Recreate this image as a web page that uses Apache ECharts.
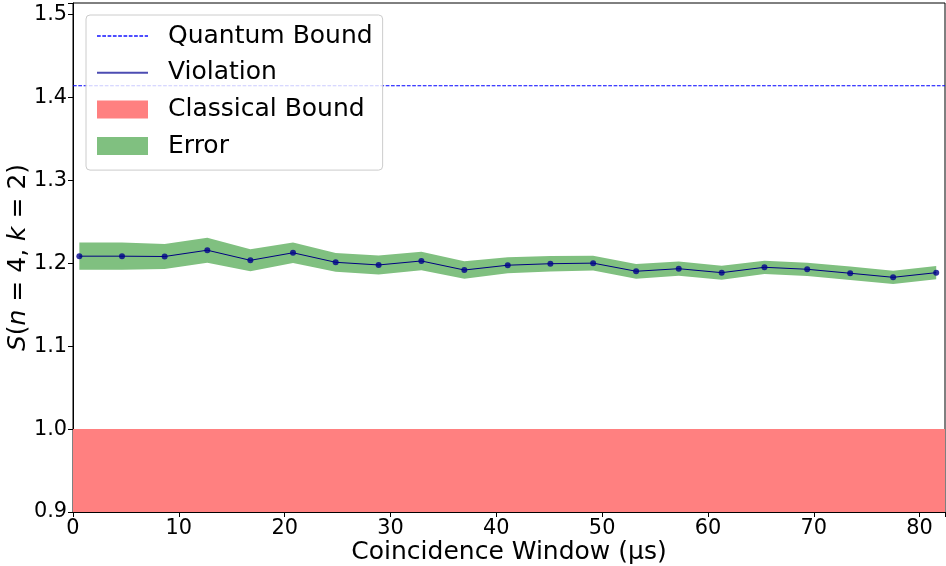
<!DOCTYPE html>
<html>
<head>
<meta charset="utf-8">
<script src="https://cdn.jsdelivr.net/npm/echarts@6/dist/echarts.min.js"></script>
<style>html,body{margin:0;padding:0;background:#fff}#c{width:946px;height:566px}</style>
</head>
<body>
<div id="c"></div>
<script>
// Coincidence window (µs)
const windows = [0.60, 4.63, 8.66, 12.69, 16.76, 20.79, 24.82, 28.88, 32.92, 36.98, 41.08, 45.11, 49.15, 53.21, 57.24, 61.30, 65.34, 69.38, 73.44, 77.50, 81.57];
// S(n=4,k=2) violation values
const violation = [1.2086, 1.2086, 1.2082, 1.2158, 1.2036, 1.2127, 1.2012, 1.1980, 1.2028, 1.1919, 1.1977, 1.1995, 1.2002, 1.1904, 1.1935, 1.1887, 1.1952, 1.1928, 1.1880, 1.1831, 1.1887];
// half-width of error band
const errors = [0.0165, 0.0165, 0.0151, 0.0150, 0.0133, 0.0124, 0.0113, 0.0115, 0.0112, 0.0105, 0.0096, 0.0093, 0.0090, 0.0089, 0.0086, 0.0084, 0.0080, 0.0080, 0.0080, 0.0080, 0.0080];
const quantumBound = 1.4142;
const classicalBound = 1.0;
const xRange = [0, 82.4];
const yRange = [0.9, 1.514];
const xTicks = [0, 10, 20, 30, 40, 50, 60, 70, 80];
const yTicks = [0.9, 1.0, 1.1, 1.2, 1.3, 1.4, 1.5];

const pts = windows.map((x, i) => [x, violation[i]]);
const bandData = windows.map((x, i) => [x, violation[i] - errors[i], violation[i] + errors[i]]);

const FONT = 'DejaVu Sans';
const chart = echarts.init(document.getElementById('c'), null, {renderer: 'canvas'});
const isTick = (v, arr) => arr.some(t => Math.abs(t - v) < 1e-6);

chart.setOption({
  animation: false,
  backgroundColor: '#fff',
  textStyle: {fontFamily: FONT},
  grid: {left: 73, right: 1, top: 3, bottom: 54, outerBoundsMode: 'none', containLabel: false,
    show: true, borderColor: '#000', borderWidth: 1, backgroundColor: 'transparent'},
  legend: {
    orient: 'vertical', left: 86, top: 15,
    padding: [8.5, 10, 11.5, 10],
    itemGap: 11.7, itemWidth: 51, itemHeight: 18,
    backgroundColor: 'rgba(255,255,255,0.8)', borderColor: '#cccccc', borderWidth: 1, borderRadius: 4,
    textStyle: {fontFamily: FONT, fontSize: 25, color: '#000', lineHeight: 25, padding: [0, 0, 0, 15]},
    data: [
      {name: 'Quantum Bound', itemStyle: {opacity: 0}, lineStyle: {color: '#4d4dff'}},
      {name: 'Violation', itemStyle: {opacity: 0}, lineStyle: {color: '#4c4cb2'}},
      {name: 'Classical Bound', icon: 'rect', itemStyle: {color: '#ff8080', borderWidth: 0}},
      {name: 'Error', icon: 'rect', itemStyle: {color: '#80c080', borderWidth: 0}}
    ]
  },
  xAxis: {
    type: 'value', min: xRange[0], max: xRange[1], interval: 10,
    name: 'Coincidence Window (µs)', nameLocation: 'middle', nameGap: 28, nameMoveOverlap: false,
    nameTextStyle: {fontFamily: FONT, fontSize: 25, color: '#000'},
    axisLine: {show: true, lineStyle: {color: '#000', width: 1}},
    axisTick: {show: true, inside: false, length: 5, lineStyle: {color: '#000'}},
    axisLabel: {fontFamily: FONT, fontSize: 20.83, color: '#000', margin: 6,
      formatter: v => isTick(v, xTicks) ? String(Math.round(v)) : ''},
    splitLine: {show: false}
  },
  yAxis: {
    type: 'value', min: yRange[0], max: yRange[1], interval: 0.1,
    name: '{i|S}{n|(}{i|n}{n| = 4, }{i|k}{n| = 2)}', nameLocation: 'middle', nameGap: 42, nameRotate: 90,
    nameMoveOverlap: false,
    nameTextStyle: {fontFamily: FONT, fontSize: 25, color: '#000',
      rich: {i: {fontFamily: FONT, fontSize: 25, fontStyle: 'italic', color: '#000'},
             n: {fontFamily: FONT, fontSize: 25, color: '#000'}}},
    axisLine: {show: true, lineStyle: {color: '#000', width: 1}},
    axisTick: {show: true, inside: false, length: 5, lineStyle: {color: '#000'}},
    axisLabel: {fontFamily: FONT, fontSize: 20.83, color: '#000', margin: 6,
      formatter: v => isTick(v, yTicks) ? v.toFixed(1) : ''},
    splitLine: {show: false}
  },
  series: [
    {
      name: 'Classical Bound', type: 'line', symbol: 'none', color: '#ff8080',
      data: [[xRange[0], classicalBound], [xRange[1], classicalBound]],
      lineStyle: {width: 0}, areaStyle: {color: '#ff8080', opacity: 1, origin: 'start'}, z: 1
    },
    {
      name: 'Error', type: 'custom', color: '#80c080', data: bandData, z: 2,
      encode: {x: 0, y: [1, 2]},
      renderItem: function (params, api) {
        if (params.dataIndex !== 0) return null;
        const upper = bandData.map(d => api.coord([d[0], d[2]]));
        const lowerPts = bandData.map(d => api.coord([d[0], d[1]])).reverse();
        return {type: 'polygon', shape: {points: upper.concat(lowerPts)}, style: {fill: '#80c080', stroke: null}};
      }
    },
    {
      name: 'Quantum Bound', type: 'line', symbol: 'none', color: '#0000ff',
      data: [[xRange[0], quantumBound], [xRange[1], quantumBound]],
      lineStyle: {color: '#0000ff', width: 1.2, type: [3.7, 1.6]}, z: 3
    },
    {
      name: 'Violation', type: 'line', symbol: 'none', color: '#000080', data: pts,
      lineStyle: {color: '#000080', width: 1}, z: 4
    },
    {
      name: 'points', type: 'scatter', symbol: 'circle', symbolSize: 6, data: pts,
      itemStyle: {color: '#00008b'}, z: 5
    }
  ]
});
</script>
</body>
</html>
